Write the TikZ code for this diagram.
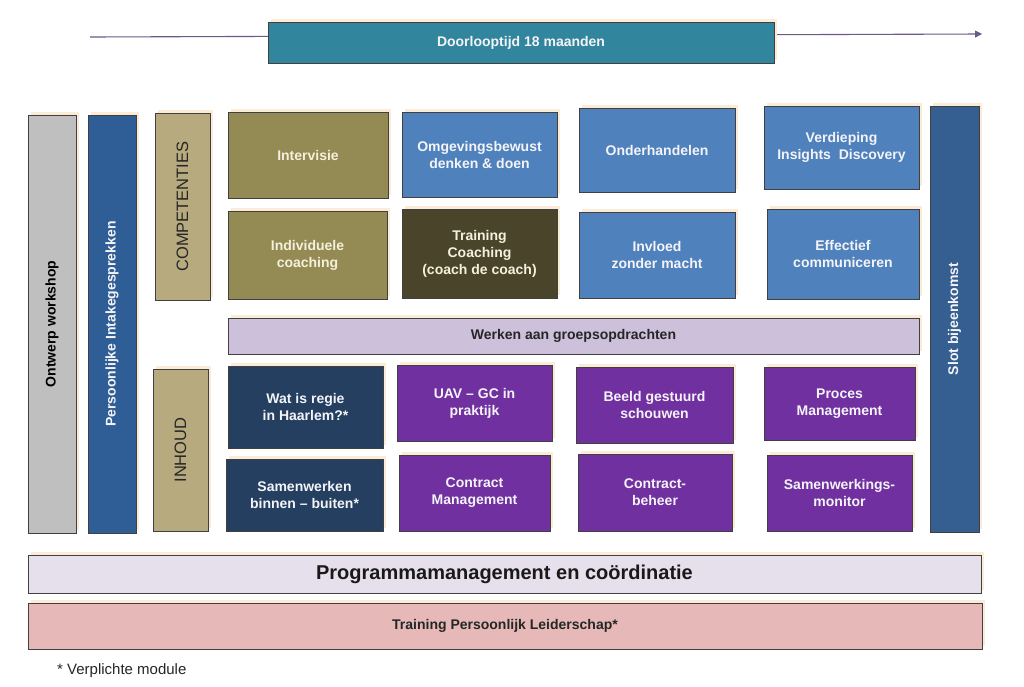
\documentclass[tikz,border=0pt]{standalone}
\usepackage{fontspec}
\setmainfont{Liberation Sans}
\usetikzlibrary{shadows, arrows.meta}

\definecolor{cTijd}{HTML}{31859C}
\definecolor{cGrijs}{HTML}{BFBFBF}
\definecolor{cIntake}{HTML}{2F5D95}
\definecolor{cSlot}{HTML}{365F91}
\definecolor{cTan}{HTML}{B7AA7E}
\definecolor{cOlijf}{HTML}{948A54}
\definecolor{cBruin}{HTML}{4A452A}
\definecolor{cBlauw}{HTML}{4F81BD}
\definecolor{cNavy}{HTML}{243F60}
\definecolor{cPaars}{HTML}{7030A0}
\definecolor{cLila}{HTML}{CCC0DA}
\definecolor{cLichtlila}{HTML}{E5E0EC}
\definecolor{cRoze}{HTML}{E6B9B8}
\definecolor{cPijl}{HTML}{6A5A84}
\definecolor{cGloed}{HTML}{FCEBD6}
\definecolor{cRoom}{HTML}{F4F0DC}
\definecolor{cWit}{HTML}{F4F4F8}

\begin{document}
\begin{tikzpicture}[x=1pt, y=-1pt, font=\fontsize{14}{17}\selectfont\bfseries,
	blok/.style={draw=black!75, line width=0.9pt, align=center, inner sep=2pt, general shadow={fill=cGloed, shadow xshift=3pt, shadow yshift=3pt}},
	olijfblok/.style={blok, fill=cOlijf, text=cRoom},
	bruinblok/.style={blok, fill=cBruin, text=cRoom},
	blauwblok/.style={blok, fill=cBlauw, text=cWit},
	navyblok/.style={blok, fill=cNavy, text=cWit},
	paarsblok/.style={blok, fill=cPaars, text=cWit},
	grijsbalk/.style={blok, fill=cGrijs, text=black},
	intakebalk/.style={blok, fill=cIntake, text=cWit},
	slotbalk/.style={blok, fill=cSlot, text=cWit},
	tanbalk/.style={blok, fill=cTan, text=black!85, font=\fontsize{16.5}{18}\selectfont\mdseries},
]
	\fill[white] (0,0) rectangle (1024,686);
	\useasboundingbox (0,0) rectangle (1024,686);

	% tijdlijn
	\coordinate (tijdbegin) at (90,37);
	\coordinate (tijdeind) at (982,34);
	\draw[cPijl, line width=1.1pt, -{Triangle[length=7pt, width=7pt]}] (tijdbegin) -- (tijdeind);
	\node[blok, fill=cTijd, text=cWit, font=\fontsize{14}{16}\selectfont\bfseries, minimum width=506pt, minimum height=41pt] (tijd) at (521,42.5) {Doorlooptijd 18 maanden};

	% verticale balken
	\foreach \nm/\xa/\ya/\xb/\yb/\stl/\txt in {
		ontw/28/115/76/533/grijsbalk/Ontwerp workshop,
		intake/88/115/136/533/intakebalk/Persoonlijke Intakegesprekken,
		slot/930/106/979/532/slotbalk/Slot bijeenkomst,
		comp/155/113/210/300/tanbalk/COMPETENTIES,
		inh/153/369/208/531/tanbalk/INHOUD} {
		\node[style=\stl, minimum width={(\xb-\xa)*1pt}, minimum height={(\yb-\ya)*1pt}] (\nm) at ({(\xa+\xb)/2},{(\ya+\yb)/2}) {\rotatebox{90}{\txt}};
	}

	% modules
	\foreach \nm/\xa/\ya/\xb/\yb/\stl/\txt in {
		interv/228/112/388/198/olijfblok/Intervisie,
		indiv/228/211/387/299/olijfblok/{Individuele\\coaching},
		omgev/402/112/557/197/blauwblok/{Omgevingsbewust\\denken \& doen},
		coach/402/209/557/298/bruinblok/{Training\\Coaching\\(coach de coach)},
		onder/579/108/735/192/blauwblok/Onderhandelen,
		invl/579/212/735/298/blauwblok/{Invloed\\zonder macht},
		verd/764/106/919/189/blauwblok/{Verdieping\\Insights~~Discovery},
		effc/767/209/919/299/blauwblok/{Effectief\\communiceren},
		regie/228/366/383/448/navyblok/{Wat is regie\\in Haarlem?*},
		samw/226/459/383/531/navyblok/{Samenwerken\\binnen -- buiten*},
		uav/397/365/552/441/paarsblok/{UAV -- GC in\\praktijk},
		beeld/576/367/733/443/paarsblok/{Beeld gestuurd\\schouwen},
		proces/764/367/915/440/paarsblok/{Proces\\Management},
		contr/399/455/550/531/paarsblok/{Contract\\Management},
		beheer/578/454/732/531/paarsblok/{Contract-\\beheer},
		monit/767/455/912/531/paarsblok/{Samenwerkings-\\monitor}} {
		\node[style=\stl, minimum width={(\xb-\xa)*1pt}, minimum height={(\yb-\ya)*1pt}] (\nm) at ({(\xa+\xb)/2},{(\ya+\yb)/2}) {\txt};
	}

	% horizontale balken
	\node[blok, fill=cLila, text=black!85, minimum width=691pt, minimum height=36pt] (groep) at (573.5,336) {Werken aan groepsopdrachten};
	\node[blok, fill=cLichtlila, text=black!90, font=\fontsize{20}{22}\selectfont\bfseries, minimum width=953pt, minimum height=38pt] (prog) at (504.5,574) {Programmamanagement en coördinatie};
	\node[blok, fill=cRoze, text=black!85, font=\fontsize{14}{16}\selectfont\bfseries, minimum width=954pt, minimum height=46pt] (leid) at (505,626) {Training Persoonlijk Leiderschap*};

	\node[anchor=west, inner sep=0pt, text=black!85, font=\fontsize{15}{17}\selectfont] (noot) at (57,671) {* Verplichte module};
\end{tikzpicture}
\end{document}
